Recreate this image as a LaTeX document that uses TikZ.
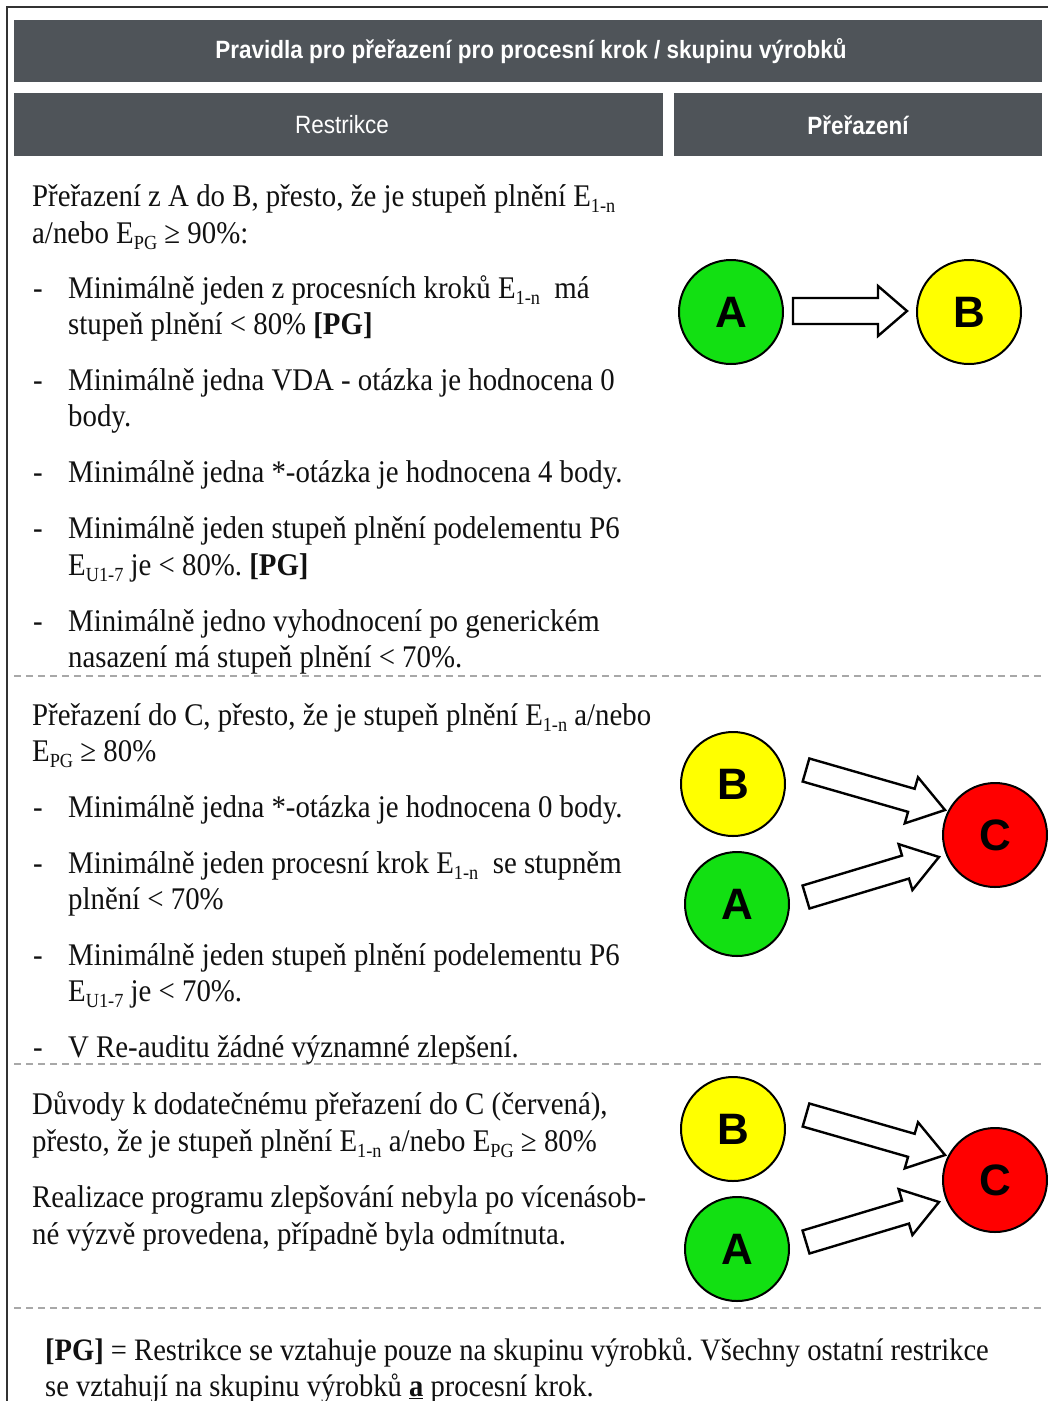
\documentclass[tikz,border=0pt]{standalone}
\usepackage{fontspec}
\setmainfont{Liberation Serif}[FakeStretch=0.915]
\newfontfamily\hdrfont{Liberation Sans}[FakeStretch=0.9]
\newfontfamily\lblfont{Liberation Sans}
\usetikzlibrary{calc}
\frenchspacing

\definecolor{bargray}{HTML}{4F5459}
\definecolor{inkblack}{HTML}{111111}
\definecolor{dashgray}{HTML}{A8A8A8}
\definecolor{okgreen}{HTML}{12E012}
\definecolor{warnyellow}{HTML}{FFFF00}
\definecolor{badred}{HTML}{FF0000}

% subscript used in the rule texts
\newcommand\sbs[1]{\raisebox{-0.2em}{\fontsize{20}{20}\selectfont #1}}

% hollow block arrow between two named points:
% #1 tail, #2 tip, #3 shaft half width, #4 head half width, #5 head length
\newcommand\hollowarrow[5]{%
  \coordinate (hb) at ($(#2)!#5pt!(#1)$);
  \draw[blockarrow]
    ($(#1)!#3pt!90:(#2)$) -- ($(hb)!#3pt!90:(#2)$) -- ($(hb)!#4pt!90:(#2)$)
    -- (#2)
    -- ($(hb)!#4pt!-90:(#2)$) -- ($(hb)!#3pt!-90:(#2)$) -- ($(#1)!#3pt!-90:(#2)$)
    -- cycle;
}

\tikzset{
  bar/.style={fill=bargray, draw=none},
  bartext/.style={text=white, inner sep=0, font=\hdrfont\fontsize{25}{25}\selectfont},
  bartextbf/.style={bartext, font=\hdrfont\bfseries\fontsize{25}{25}\selectfont},
  txt/.style={anchor=base west, inner sep=0, text=inkblack, font=\fontsize{31.5}{37}\selectfont},
  foot/.style={txt, font=\fontsize{31.2}{37}\selectfont},
  sep/.style={draw=dashgray, line width=1.2pt, dash pattern=on 7pt off 5pt},
  grade/.style={circle, draw=black, line width=2pt, minimum size=104pt, inner sep=0,
    font=\lblfont\bfseries\fontsize{44}{44}\selectfont},
  blockarrow/.style={draw=black, fill=white, line width=2.4pt, line join=miter},
}

\begin{document}
\begin{tikzpicture}[x=1pt, y=-1pt]
\useasboundingbox (0,0) rectangle (1048,1401);
\fill[white] (0,0) rectangle (1048,1401);

% outer frame
\draw[draw=black!80, line width=1.3pt] (7,1401) -- (7,7) -- (1048,7);

% header bars
\fill[bar] (14,20) rectangle (1042,82);
\fill[bar] (14,93) rectangle (663,156);
\fill[bar] (674,93) rectangle (1042,156);
\node[bartextbf] (title) at (531,51)
  {Pravidla pro přeřazení pro procesní krok / skupinu výrobků};
\node[bartext] (hrestr) at (342,125) {Restrikce};
\node[bartextbf] (hprer) at (858,125) {Přeřazení};

% section separators
\draw[sep] (14,676) -- (1042,676);
\draw[sep] (14,1064) -- (1042,1064);
\draw[sep] (14,1308) -- (1042,1308);

% ---- section 1: A -> B
\node[txt] (s1a) at (32,206) {Přeřazení z A do B, přesto, že je stupeň plnění E\sbs{1-n}};
\node[txt] (s1b) at (32,243) {a/nebo E\sbs{PG} ≥ 90\%:};
\node[txt] (d11) at (33,298) {-};
\node[txt] (s1c) at (68,298) {Minimálně jeden z procesních kroků E\sbs{1-n}\ \ má};
\node[txt] (s1d) at (68,334) {stupeň plnění < 80\% \textbf{[PG]}};
\node[txt] (d12) at (33,390) {-};
\node[txt] (s1e) at (68,390) {Minimálně jedna VDA - otázka je hodnocena 0};
\node[txt] (s1f) at (68,426) {body.};
\node[txt] (d13) at (33,482) {-};
\node[txt] (s1g) at (68,482) {Minimálně jedna *-otázka je hodnocena 4 body.};
\node[txt] (d14) at (33,538) {-};
\node[txt] (s1h) at (68,538) {Minimálně jeden stupeň plnění podelementu P6};
\node[txt] (s1i) at (68,575) {E\sbs{U1-7} je < 80\%. \textbf{[PG]}};
\node[txt] (d15) at (33,631) {-};
\node[txt] (s1j) at (68,631) {Minimálně jedno vyhodnocení po generickém};
\node[txt] (s1k) at (68,667) {nasazení má stupeň plnění < 70\%.};

\node[grade, fill=okgreen] (A1) at (731,312) {A};
\node[grade, fill=warnyellow] (B1) at (969,312) {B};
\coordinate (a1t) at (793,311);
\coordinate (a1h) at (907,311);
\hollowarrow{a1t}{a1h}{13}{25}{29}

% ---- section 2: A/B -> C
\node[txt] (s2a) at (32,725) {Přeřazení do C, přesto, že je stupeň plnění E\sbs{1-n} a/nebo};
\node[txt] (s2b) at (32,761) {E\sbs{PG} ≥ 80\%};
\node[txt] (d21) at (33,817) {-};
\node[txt] (s2c) at (68,817) {Minimálně jedna *-otázka je hodnocena 0 body.};
\node[txt] (d22) at (33,873) {-};
\node[txt] (s2d) at (68,873) {Minimálně jeden procesní krok E\sbs{1-n}\ \ se stupněm};
\node[txt] (s2e) at (68,909) {plnění < 70\%};
\node[txt] (d23) at (33,965) {-};
\node[txt] (s2f) at (68,965) {Minimálně jeden stupeň plnění podelementu P6};
\node[txt] (s2g) at (68,1001) {E\sbs{U1-7} je < 70\%.};
\node[txt] (d24) at (33,1057) {-};
\node[txt] (s2h) at (68,1057) {V Re-auditu žádné významné zlepšení.};

\node[grade, fill=warnyellow] (B2) at (733,784) {B};
\node[grade, fill=okgreen] (A2) at (737,904) {A};
\node[grade, fill=badred] (C2) at (995,835) {C};
\coordinate (b2t) at (806,770);
\coordinate (b2h) at (945,810);
\coordinate (a2t) at (806,897);
\coordinate (a2h) at (939,857);
\hollowarrow{b2t}{b2h}{12}{24}{35}
\hollowarrow{a2t}{a2h}{12}{24}{35}

% ---- section 3: additional reasons for C
\node[txt] (s3a) at (32,1114) {Důvody k dodatečnému přeřazení do C (červená),};
\node[txt] (s3b) at (32,1151) {přesto, že je stupeň plnění E\sbs{1-n} a/nebo E\sbs{PG} ≥ 80\%};
\node[txt] (s3c) at (32,1207) {Realizace programu zlepšování nebyla po vícenásob-};
\node[txt] (s3d) at (32,1244) {né výzvě provedena, případně byla odmítnuta.};

\node[grade, fill=warnyellow] (B3) at (733,1129) {B};
\node[grade, fill=okgreen] (A3) at (737,1249) {A};
\node[grade, fill=badred] (C3) at (995,1180) {C};
\coordinate (b3t) at (806,1115);
\coordinate (b3h) at (945,1155);
\coordinate (a3t) at (806,1242);
\coordinate (a3h) at (939,1202);
\hollowarrow{b3t}{b3h}{12}{24}{35}
\hollowarrow{a3t}{a3h}{12}{24}{35}

% ---- footnote
\node[foot] (f1) at (45,1360) {\textbf{[PG]} = Restrikce se vztahuje pouze na skupinu výrobků. Všechny ostatní restrikce};
\node[foot] (f2) at (45,1396) {se vztahují na skupinu výrobků \underline{\textbf{a}} procesní krok.};
\end{tikzpicture}
\end{document}
